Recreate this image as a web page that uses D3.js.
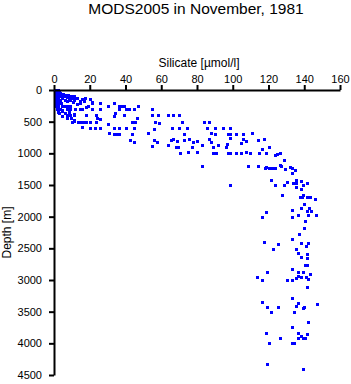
<!DOCTYPE html>
<html>
<head>
<meta charset="utf-8">
<script src="https://cdn.jsdelivr.net/npm/d3@7"></script>
<style>
  body { margin: 0; background: #fff; }
  svg text { font-family: "Liberation Sans", Arial, sans-serif; fill: #000; }
</style>
</head>
<body>
<div id="container"></div>
<script>
// silicate profile, values
let title = "MODS2005 in November, 1981";
let xLabel = "Silicate [\u00b5mol/l]";
let yLabel = "Depth [m]";
let xTicks = [0, 20, 40, 60, 80, 100, 120, 140, 160];
let yTicks = [0, 500, 1000, 1500, 2000, 2500, 3000, 3500, 4000, 4500];

// near surface, low silicate
let surface = [
  [0.3,0],[1.2,0],[2,5],[0.5,10],[1.5,10],[0.3,20],[2.2,20],[1,30],[3,30],[0.5,50],[1.8,50],[3.5,50],
  [0.8,75],[2.5,75],[4.2,75],[0.4,100],[1.5,100],[3,100],[1,125],[2.2,125],[4.5,125],[0.6,150],[1.8,150],
  [3.2,150],[1.2,200],[2.8,200],[4,200],[0.8,250],[2.5,250],[4.6,250],[1.5,300],[3.5,300],[2.2,350],[4.2,330],
  [5,60],[6.5,75],[8,75],[9.5,90],[11,90],[5.5,100],[7,110],[8.5,125],[10,125],[12,130],[6,150],[9,150],
  [11,160],[7.5,180],[10.5,190],[14.8,174],[16.6,174],[20.3,147],[21.3,190],[17.5,131],[12.9,131],[15.5,140],
  [5.1,253],[6.4,253],[7.8,253],[9.2,253],[12.9,226],[14.4,200],[19,253],[15.7,295],[21.3,305],[25.5,210],
  [21.3,210],[25.9,305],[18,264],[7.4,305],[9,300],[11.5,305],[14.4,305],[4.6,316]
];

// thermocline, 350 - 1000 m
let middle = [
  [2.7,368],[6.4,368],[8.2,343],[7,395],[9.2,400],[11,395],[11.4,384],[18.1,400],[23.7,395],[24.1,447],
  [7,447],[9.3,447],[11.4,474],[4.6,411],[10.1,500],[11,490],[13.3,500],[14.5,500],[16,500],[18.1,500],
  [19.9,500],[23.5,500],[15.7,580],[20.3,595],[23,595],[25.9,605],
  [30.2,253],[33.3,210],[36.1,253],[37.2,253],[38.7,253],[39.3,253],[36.5,305],[40.2,305],[42.2,305],[45,305],
  [47.2,253],[55,305],[34.3,368],[33.3,411],[39.3,395],[55,395],[58.4,395],[64,395],[66.7,395],[70.1,395],
  [46.4,447],[43.7,500],[44.5,500],[45.4,500],[30.2,537],[25.9,458],[56.5,500],[58.9,526],[71.4,500],
  [83.8,500],[86.8,500],[33.3,595],[36.1,595],[40.2,605],[45,605],[56.2,621],[66.2,605],[70.1,605],[74.5,605],
  [85.7,605],[90,605],[94.6,605],[98.7,595],[30.5,684],[33.3,700],[35,700],[36.1,700],[43.6,700],[52.5,684],
  [72.9,700],[87.7,684],[90,700],[97.4,700],[98.7,700],[101.7,700],[105.7,700],[110.6,684],[98.7,763],
  [42.6,790],[45,816],[56.2,790],[57.8,816],[65.3,790],[66.7,778],[69,800],[72.9,790],[75.7,778],[77.9,816],
  [79.8,800],[86.8,778],[87.7,816],[105.7,778],[107.6,800],[114.1,790],[117.4,778],[104.8,842],[97,853],
  [55,884],[64,873],[68.2,905],[69.5,895],[77,905],[82.9,873],[89,905],[91.8,873],[96.5,895],[120.2,895],
  [116.3,936],[114.7,990],[70.6,1000],[75.1,974],[79.8,984],[88.7,1000],[90.9,1000],[97.4,990],[98.3,1000],
  [102,1000],[104.8,1000],[107.6,974],[109.5,1000],[118.8,990],[123.4,1026],[124.5,1010],[126.2,990]
];

// deep water, below 1000 m
let deep = [
  [128.6,1105],[82.9,1200],[108.5,1200],[114.1,1200],[117.8,1236],[118.8,1220],[120,1236],[121,1230],
  [122,1236],[123.5,1225],[126.2,1189],[127,1200],[129.1,1242],[131.8,1221],[133,1225],[135.1,1263],
  [133.3,1316],[121.6,1421],[123.4,1505],[98.3,1505],[128.4,1505],[130.5,1448],[133.6,1474],[135.5,1421],
  [135.5,1474],[135.5,1527],[138.3,1437],[139.2,1505],[141.4,1474],[138.3,1568],[127.5,1663],[137.5,1695],
  [139,1695],[139.2,1663],[141.5,1695],[143,1695],[146.2,1726],[140.1,1805],[133.3,1895],[138.3,1868],
  [142.9,1868],[141.5,1911],[144,1911],[141.9,1974],[146.6,1974],[136.4,1974],[133.3,2011],[118.4,1922],
  [116.3,2011],[140.3,2074],[140.1,2184],[137.3,2279],[133.3,2358],[117.4,2405],[125.2,2432],[138.3,2411],
  [141.9,2421],[140.7,2463],[122.5,2510],[135.5,2510],[136.4,2569],[141.4,2590],[138.3,2632],[141.4,2658],
  [140.5,2758],[141.5,2758],[133.3,2826],[119.3,2879],[136.4,2879],[139.2,2879],[143.3,2905],[136.4,2937],
  [138.3,2948],[140.7,2948],[113.5,2958],[116.3,3005],[130.3,3005],[133.3,3005],[135.5,2974],[142.3,2990],
  [141.4,3106],[133.3,3290],[116.3,3353],[119.3,3432],[125.2,3432],[136.4,3368],[135.5,3408],[139.2,3442],
  [140.1,3432],[147.2,3384],[121.3,3510],[134.1,3510],[142.3,3668],[133.3,3747],[118.4,3842],[126.4,3921],
  [136.4,3842],[138.3,3880],[136.4,3921],[139.2,3921],[140.3,3921],[141.4,3848],[120.4,4000],[133.3,4000],
  [134.1,4000],[119.3,4331],[139.2,4400]
];

let data = surface.concat(middle, deep);

let w = 351;
let h = 384;
let padLeft = 54, padRight = 340, padTop = 90, padBottom = 375;

let viz = d3.select("#container")
  .append("svg")
    .attr("width", w)
    .attr("height", h)
;

let xScale = d3.scaleLinear().domain([0, 160]).range([padLeft, padRight]);
let yScale = d3.scaleLinear().domain([0, 4500]).range([padTop, padBottom]);

// points first so the axes sit on top of them
viz.append("g").classed("points", true)
  .selectAll("rect").data(data).enter()
  .append("rect")
    .attr("x", d => Math.round(xScale(d[0])) - 1.5)
    .attr("y", d => Math.round(yScale(d[1])) - 1.5)
    .attr("width", 3)
    .attr("height", 3)
    .attr("fill", "#0000ff")
    .attr("shape-rendering", "crispEdges")
;

let xAxis = d3.axisTop(xScale).tickValues(xTicks).tickSize(5).tickSizeOuter(0).tickPadding(2).tickFormat(d3.format("d"));
let xAxisGroup = viz.append("g").attr("transform", "translate(0," + padTop + ")").call(xAxis);

let yAxis = d3.axisLeft(yScale).tickValues(yTicks).tickSize(5).tickSizeOuter(0).tickPadding(7).tickFormat(d3.format("d"));
let yAxisGroup = viz.append("g").attr("transform", "translate(" + padLeft + ",0)").call(yAxis);

[xAxisGroup, yAxisGroup].forEach(function(g){
  g.selectAll("path, line").attr("stroke", "#000").attr("stroke-width", 2);
  g.selectAll("text").attr("font-size", 11).attr("font-family", "Liberation Sans, Arial, sans-serif").attr("fill", "#000");
});

viz.append("text")
  .attr("x", 196).attr("y", 14)
  .attr("text-anchor", "middle")
  .attr("font-size", 15.5)
  .text(title);

viz.append("text")
  .attr("x", 199).attr("y", 67)
  .attr("text-anchor", "middle")
  .attr("font-size", 12)
  .text(xLabel);

viz.append("text")
  .attr("transform", "translate(11," + ((padTop + padBottom) / 2) + ") rotate(-90)")
  .attr("text-anchor", "middle")
  .attr("font-size", 12)
  .text(yLabel);
</script>
</body>
</html>
